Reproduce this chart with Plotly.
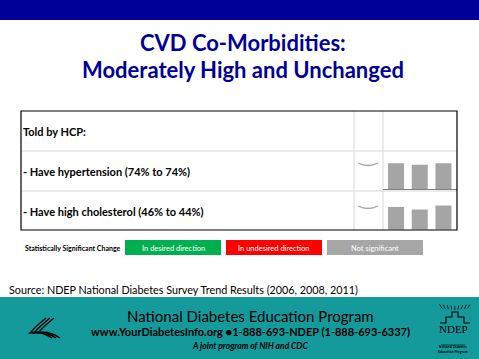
import plotly.graph_objects as go

# ---- data ----
years = ["2006", "2008", "2011"]
hypertension = [74, 70, 74]
cholesterol = [46, 44, 47]
row_labels = ["Told by HCP:", "- Have hypertension (74% to 74%)", "- Have high cholesterol (46% to 44%)"]
legend_title = "Statistically Significant Change"
legend_items = ["In desired direction", "In undesired direction", "Not significant"]
legend_colors = ["#00B050", "#FF0000", "#A6A6A6"]
title_lines = ["CVD Co-Morbidities:", "Moderately High and Unchanged"]
source_text = "Source: NDEP National Diabetes Survey Trend Results (2006, 2008, 2011)"
footer_lines = ["National Diabetes Education Program",
                "www.YourDiabetesInfo.org \u25cf1-888-693-NDEP (1-888-693-6337)",
                "A joint program of NIH and CDC"]

W, H = 479, 359
BLUE = "#000099"
TEAL = "#149A9B"
BAR = "#A5A5A5"

fig = go.Figure()
fig.add_trace(go.Scatter(x=[0, W], y=[0, H], mode="markers", marker=dict(opacity=0),
                         hoverinfo="skip", showlegend=False, xaxis="x", yaxis="y"))

fig.add_trace(go.Bar(x=years, y=hypertension, marker=dict(color=BAR, line=dict(width=0)),
                     xaxis="x2", yaxis="y2", showlegend=False))
fig.add_trace(go.Bar(x=years, y=cholesterol, marker=dict(color=BAR, line=dict(width=0)),
                     xaxis="x3", yaxis="y3", showlegend=False))

def py(v):
    return 1 - v / H

shapes = []
shapes.append(dict(type="rect", x0=0, x1=W, y0=0, y1=20, fillcolor=BLUE, line=dict(width=0), layer="below"))
shapes.append(dict(type="rect", x0=0, x1=W, y0=297, y1=H, fillcolor=TEAL, line=dict(width=0), layer="below"))
for yy in [151, 191]:
    shapes.append(dict(type="line", x0=21, x1=457, y0=yy, y1=yy, line=dict(color="#D9D9D9", width=1)))
for xx in [354, 383]:
    shapes.append(dict(type="line", x0=xx, x1=xx, y0=111, y1=230, line=dict(color="#D9D9D9", width=1)))
shapes.append(dict(type="line", x0=383, x1=457, y0=189.5, y1=189.5, line=dict(color="#808080", width=1)))
shapes.append(dict(type="rect", x0=21, x1=457, y0=111, y1=230, line=dict(color="black", width=1.2)))
for yy in [163, 206]:
    shapes.append(dict(type="path", path=f"M 358,{yy} Q 368,{yy+5} 378,{yy}",
                       line=dict(color="#A6A6A6", width=1.3)))
lx = [125, 226, 327]
for x0, c in zip(lx, legend_colors):
    shapes.append(dict(type="rect", x0=x0, x1=x0 + 96, y0=240, y1=255, fillcolor=c, line=dict(width=0)))
# HHS logo (approx)
shapes.append(dict(type="path", path="M 50,309 A 22,22 0 1 0 52,342",
                   line=dict(color="#0B2A2A", width=1.2, dash="dot")))
for dx in [0, 4, 8]:
    shapes.append(dict(type="path",
                       path=f"M {46+dx},318 Q {36+dx},326 {30+dx},333 Q {40+dx},330 {52+dx},338",
                       line=dict(color="black", width=1.4)))
# NDEP logo (approx)
shapes.append(dict(type="path", path="M 440,323 L 446,323 L 446,317 L 452,317 L 452,312 L 458,312 L 458,317 L 464,317 L 464,323 L 470,323",
                   line=dict(color="black", width=1.2)))
for i in range(9):
    x = 442 + i * 3.2
    shapes.append(dict(type="line", x0=x, x1=x + (i - 4) * 0.6, y0=310 - abs(i - 4) * 0.4, y1=306 - abs(i - 4) * 0.4,
                       line=dict(color="black", width=0.8)))
shapes.append(dict(type="line", x0=441, x1=465, y0=345, y1=345, line=dict(color="black", width=0.6)))

ann = []
def t(x, y, s, size, color="black", family="Lato", xa="left", ya="middle", bold=False, italic=False):
    txt = s
    if bold:
        txt = f"<b>{txt}</b>"
    if italic:
        txt = f"<i>{txt}</i>"
    ann.append(dict(x=x, y=y, xref="x", yref="y", text=txt, showarrow=False, xanchor=xa, yanchor=ya,
                    font=dict(size=size, color=color, family=family)))

t(243, 42, title_lines[0], 22, BLUE, xa="center", bold=True)
t(243, 69, title_lines[1], 22, BLUE, xa="center", bold=True)
for yy, s in zip([131, 171, 211], row_labels):
    t(21, yy, s, 11, bold=True)
t(123, 248, legend_title, 7, xa="right", bold=True)
for x0, s in zip(lx, legend_items):
    t(x0 + 48, 248, s, 7.5, "white", xa="center")
t(7, 289, source_text, 10.8)
t(250, 316, footer_lines[0], 15, "black", xa="center")
t(250, 331, footer_lines[1], 11, "black", xa="center", bold=True)
t(250, 346, footer_lines[2], 8.5, "black", xa="center", bold=True, italic=True)
t(453, 329, "NDEP", 11, "black", family="Liberation Serif", xa="center")
t(453, 349, "National Diabetes<br>Education Program", 3.5, "black", xa="center", bold=True)

fig.update_layout(
    width=W, height=H, margin=dict(l=0, r=0, t=0, b=0),
    paper_bgcolor="white", plot_bgcolor="rgba(0,0,0,0)",
    xaxis=dict(range=[0, W], domain=[0, 1], visible=False, fixedrange=True),
    yaxis=dict(range=[H, 0], domain=[0, 1], visible=False, fixedrange=True),
    xaxis2=dict(domain=[384.2 / W, 455.3 / W], anchor="y2", visible=False, type="category"),
    yaxis2=dict(domain=[py(189.3), py(161.2)], range=[0, 80], anchor="x2", visible=False),
    xaxis3=dict(domain=[384.2 / W, 455.3 / W], anchor="y3", visible=False, type="category"),
    yaxis3=dict(domain=[py(229.5), py(200)], range=[28.3, 51.4], anchor="x3", visible=False),
    bargap=0.325,
    shapes=shapes, annotations=ann, showlegend=False,
)
fig.write_html("out.html", config={"displayModeBar": False},
               post_script="document.body.style.margin='0';document.body.style.overflow='hidden';")
